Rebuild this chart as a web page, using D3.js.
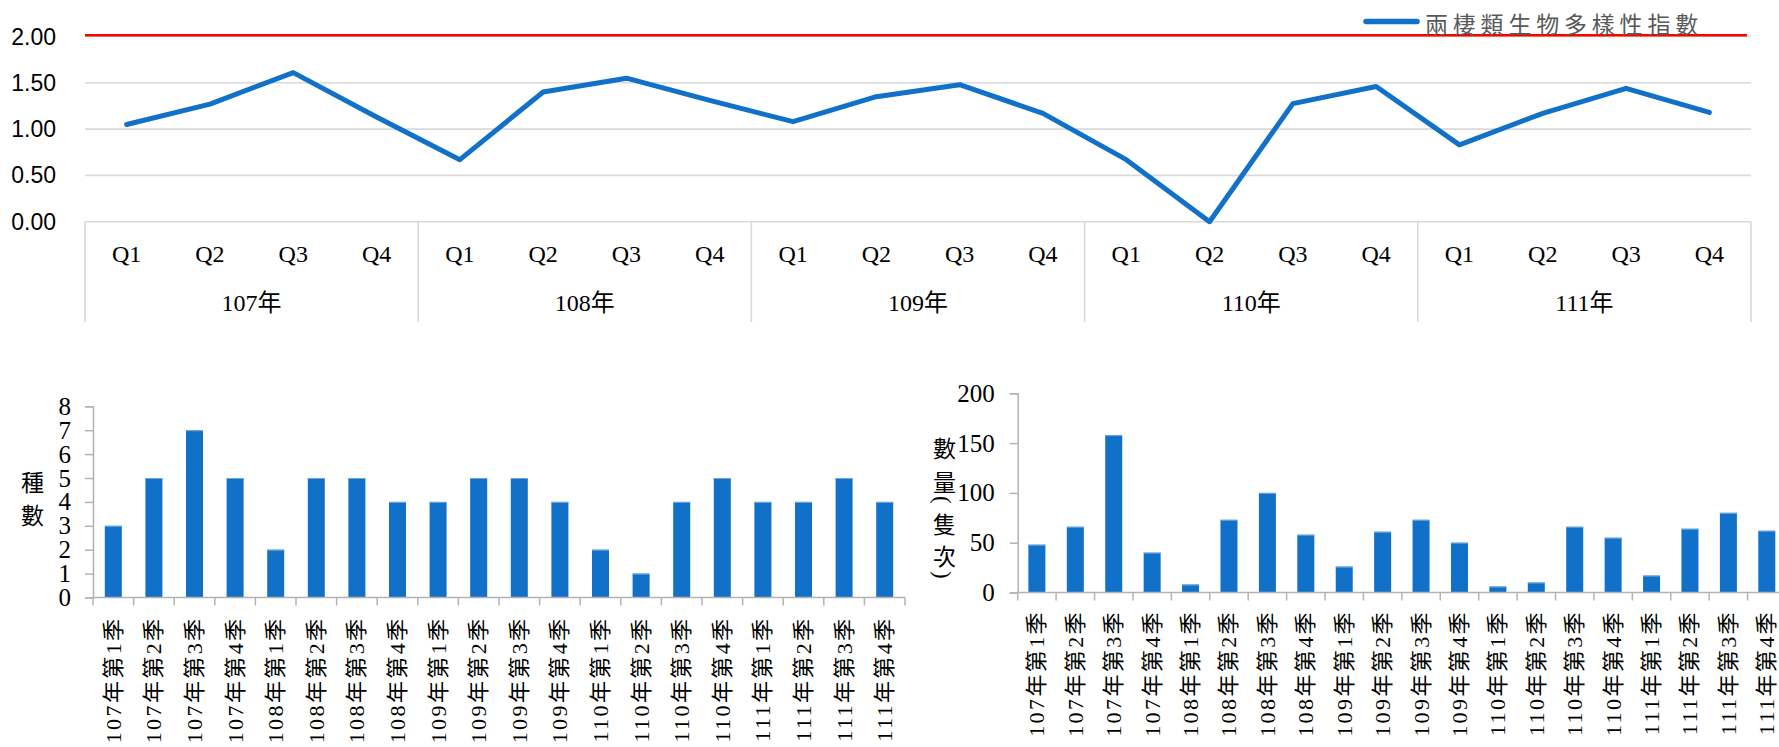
<!DOCTYPE html>
<html>
<head>
<meta charset="utf-8">
<script src="https://cdn.jsdelivr.net/npm/d3@7"></script>
<style>
  html, body { margin: 0; padding: 0; background: #fff; }
  svg { display: block; }
</style>
</head>
<body>
<svg id="chart" width="1779" height="747"></svg>
<script>
// ---------------- DATA ----------------
const quarters = ["Q1", "Q2", "Q3", "Q4"];
const years = ["107年", "108年", "109年", "110年", "111年"];
const diversityIndex = [1.05, 1.27, 1.61, 1.13, 0.67, 1.40, 1.55, 1.31, 1.08, 1.35, 1.48, 1.17, 0.67, 0.00, 1.275, 1.46, 0.83, 1.17, 1.44, 1.18];
const thresholdValue = 2.0;
const topTicks = [0, 0.5, 1.0, 1.5, 2.0];
const legendLabel = "兩棲類生物多樣性指數";

const seasonLabels = [
  "107年第1季", "107年第2季", "107年第3季", "107年第4季",
  "108年第1季", "108年第2季", "108年第3季", "108年第4季",
  "109年第1季", "109年第2季", "109年第3季", "109年第4季",
  "110年第1季", "110年第2季", "110年第3季", "110年第4季",
  "111年第1季", "111年第2季", "111年第3季", "111年第4季"
];
const speciesCounts = [3, 5, 7, 5, 2, 5, 5, 4, 4, 5, 5, 4, 2, 1, 4, 5, 4, 4, 5, 4];
const speciesTicks = [0, 1, 2, 3, 4, 5, 6, 7, 8];
const speciesTitle = "種數";
const individualCounts = [48, 66, 158, 40, 8, 73, 100, 58, 26, 61, 73, 50, 6, 10, 66, 55, 17, 64, 80, 62];
const individualTicks = [0, 50, 100, 150, 200];
const individualTitle = "數量(隻次)";

// ---------------- STYLE ----------------
const BLUE = "#1170c8";
const GRID = "#d9d9d9";
const AXIS = "#b3b3b3";
const SERIF = "'Liberation Serif', 'Times New Roman', 'Noto Sans CJK TC', serif";
const SANS = "'Liberation Sans', Arial, sans-serif";
const CJK = "'Noto Sans CJK TC', 'Liberation Serif', serif";

const svg = d3.select("#chart");

// ================= TOP LINE CHART =================
const cats = diversityIndex.map((d, i) => i);
const xTop = d3.scaleBand().domain(cats).range([85, 1751]).padding(0);
const yTop = d3.scaleLinear().domain([0, 2]).range([221.7, 36.5]);
const topG = svg.append("g");

// gridlines
topG.selectAll("line.grid").data(topTicks).join("line")
  .attr("x1", 85).attr("x2", 1751)
  .attr("y1", d => yTop(d)).attr("y2", d => yTop(d))
  .attr("stroke", GRID).attr("stroke-width", 1.6);

// threshold red line
topG.append("line")
  .attr("x1", 85).attr("x2", 1747)
  .attr("y1", yTop(thresholdValue) - 1.3).attr("y2", yTop(thresholdValue) - 1.3)
  .attr("stroke", "#ff0000").attr("stroke-width", 2.4);

// y tick labels
topG.selectAll("text.ytick").data(topTicks).join("text")
  .attr("x", 56).attr("y", d => yTop(d))
  .attr("text-anchor", "end").attr("dominant-baseline", "central")
  .attr("font-family", SANS).attr("font-size", 23).attr("fill", "#000")
  .text(d => d.toFixed(2));

// category dividers (group boundaries)
const groupBounds = d3.range(years.length + 1).map(g => g === years.length ? xTop.range()[1] : xTop(g * quarters.length));
topG.selectAll("line.div").data(groupBounds).join("line")
  .attr("x1", d => d).attr("x2", d => d)
  .attr("y1", yTop(0)).attr("y2", 322)
  .attr("stroke", GRID).attr("stroke-width", 1.6);

// quarter labels
topG.selectAll("text.q").data(cats).join("text")
  .attr("x", d => xTop(d) + xTop.bandwidth() / 2).attr("y", 254)
  .attr("text-anchor", "middle").attr("dominant-baseline", "central")
  .attr("font-family", SERIF).attr("font-size", 24).attr("fill", "#000")
  .text(d => quarters[d % quarters.length]);

// year labels
topG.selectAll("text.yr").data(years).join("text")
  .attr("x", (d, i) => (groupBounds[i] + groupBounds[i + 1]) / 2).attr("y", 303)
  .attr("text-anchor", "middle").attr("dominant-baseline", "central")
  .attr("font-family", SERIF).attr("font-size", 24).attr("fill", "#000")
  .text(d => d);

// line
const lineGen = d3.line()
  .x((d, i) => xTop(i) + xTop.bandwidth() / 2)
  .y(d => yTop(d));
topG.append("path").datum(diversityIndex)
  .attr("d", lineGen)
  .attr("fill", "none").attr("stroke", BLUE).attr("stroke-width", 5)
  .attr("stroke-linejoin", "round").attr("stroke-linecap", "round");

// legend
topG.append("line")
  .attr("x1", 1366).attr("x2", 1417).attr("y1", 21.5).attr("y2", 21.5)
  .attr("stroke", BLUE).attr("stroke-width", 5.5).attr("stroke-linecap", "round");
topG.append("text")
  .attr("x", 1425).attr("y", 22.5).attr("dominant-baseline", "central")
  .attr("font-family", CJK).attr("font-size", 23).attr("letter-spacing", 4.8)
  .attr("fill", "#595959")
  .text(legendLabel);

// ================= BAR CHART helper =================
function barChart(opts) {
  const g = svg.append("g");
  const x = d3.scaleBand().domain(seasonLabels).range([opts.x0, opts.x1]).padding(0);
  const y = d3.scaleLinear().domain([0, opts.max]).range([opts.y0, opts.yTop]);
  const bw = x.bandwidth();
  const barW = opts.barW;

  // bars
  g.selectAll("rect").data(opts.values).join("rect")
    .attr("x", (d, i) => x(seasonLabels[i]) + (bw - barW) / 2)
    .attr("width", barW)
    .attr("y", d => y(d))
    .attr("height", d => y(0) - y(d))
    .attr("fill", BLUE);
  // light top edge
  g.selectAll("line.cap").data(opts.values).join("line")
    .attr("x1", (d, i) => x(seasonLabels[i]) + (bw - barW) / 2)
    .attr("x2", (d, i) => x(seasonLabels[i]) + (bw + barW) / 2)
    .attr("y1", d => y(d) + 0.5).attr("y2", d => y(d) + 0.5)
    .attr("stroke", "#6fa8e0").attr("stroke-width", 1);

  // y axis
  const yAxis = d3.axisLeft(y).tickValues(opts.ticks).tickSize(8).tickPadding(opts.tickPad).tickFormat(d3.format("d"));
  const ya = g.append("g").attr("transform", `translate(${opts.x0},0)`).call(yAxis);
  ya.select(".domain").attr("stroke", AXIS).attr("stroke-width", 1.5);
  ya.selectAll(".tick line").attr("stroke", AXIS).attr("stroke-width", 1.5);
  ya.selectAll(".tick text").attr("font-family", SERIF).attr("font-size", 25).attr("fill", "#000");

  // x axis line
  g.append("line").attr("x1", opts.x0).attr("x2", opts.x1)
    .attr("y1", y(0)).attr("y2", y(0)).attr("stroke", AXIS).attr("stroke-width", 1.5);
  const bounds = seasonLabels.map(s => x(s)).concat([opts.x1]);
  g.selectAll("line.xt").data(bounds).join("line")
    .attr("x1", d => d).attr("x2", d => d)
    .attr("y1", y(0)).attr("y2", y(0) + 8)
    .attr("stroke", AXIS).attr("stroke-width", 1.5);

  // rotated labels
  g.selectAll("text.xl").data(seasonLabels).join("text")
    .attr("transform", d => `translate(${x(d) + bw / 2},${y(0) + opts.labelGap}) rotate(-90)`)
    .attr("text-anchor", "end").attr("dominant-baseline", "central")
    .attr("font-family", SERIF).attr("font-size", 22).attr("letter-spacing", 2.4)
    .attr("fill", "#000")
    .text(d => d);

  // vertical title (one text, vertical writing mode, per-glyph positions)
  g.append("text")
    .attr("x", opts.titleX).attr("y", opts.titleY.join(" "))
    .style("writing-mode", "vertical-rl")
    .attr("font-family", SERIF).attr("font-size", 23).attr("fill", "#000")
    .text(opts.title);
  return g;
}

// left: species count
barChart({
  values: speciesCounts, ticks: speciesTicks, max: 8,
  x0: 93, x1: 905, y0: 597.5, yTop: 406.3,
  barW: 17, tickPad: 14, labelGap: 19,
  title: speciesTitle, titleX: 30, titleY: [470.5, 503.5]
});

// right: individual count
barChart({
  values: individualCounts, ticks: individualTicks, max: 200,
  x0: 1017.7, x1: 1786, y0: 592.5, yTop: 393.3,
  barW: 17, tickPad: 15, labelGap: 17.5,
  title: individualTitle, titleX: 942, titleY: [436.5, 470.5, 496, 512.5, 544.5, 571]
});
</script>
</body>
</html>
